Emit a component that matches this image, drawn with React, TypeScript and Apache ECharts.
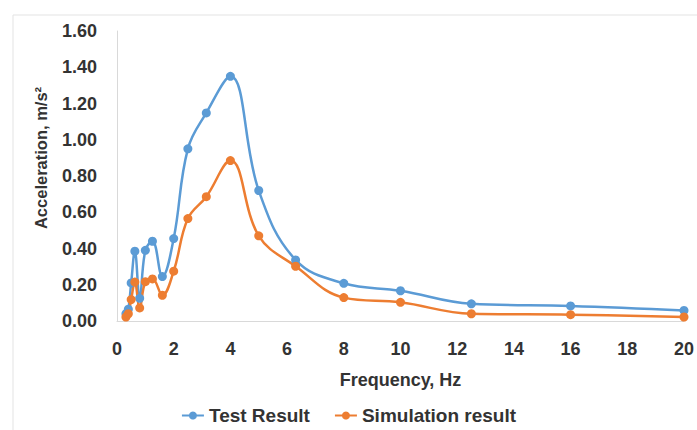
import React, { useEffect, useRef } from "react";
import * as echarts from "echarts";

const frequencies = [0.315, 0.4, 0.5, 0.63, 0.8, 1.0, 1.25, 1.6, 2.0, 2.5, 3.15, 4.0, 5.0, 6.3, 8.0, 10.0, 12.5, 16.0, 20.0];
const testResult = [0.04, 0.065, 0.21, 0.385, 0.125, 0.39, 0.44, 0.245, 0.455, 0.95, 1.148, 1.35, 0.72, 0.337, 0.208, 0.167, 0.095, 0.083, 0.058];
const simulationResult = [0.022, 0.04, 0.118, 0.215, 0.072, 0.217, 0.232, 0.142, 0.275, 0.565, 0.686, 0.885, 0.47, 0.302, 0.129, 0.103, 0.04, 0.035, 0.022];
const seriesNames = ["Test Result", "Simulation result"];
const xAxisTitle = "Frequency, Hz";
const yAxisTitle = "Acceleration, m/s²";

const FONT = "'Liberation Sans', Arial, sans-serif";
const TEXT = "#333333";

export default function App() {
  const ref = useRef<HTMLDivElement>(null);
  useEffect(() => {
    document.body.style.margin = "0";
    if (!ref.current) return;
    const chart = echarts.init(ref.current, undefined, { renderer: "svg" });
    const toPairs = (ys: number[]) => frequencies.map((f, i) => [f, ys[i]]);
    chart.setOption({
      animation: false,
      backgroundColor: "#ffffff",
      textStyle: { fontFamily: FONT },
      grid: { left: 117, right: 12, top: 31, bottom: 109 },
      legend: {
        data: seriesNames,
        left: "center",
        top: 401,
        itemWidth: 22,
        itemHeight: 10,
        itemGap: 24,
        textStyle: { fontFamily: FONT, fontSize: 19, color: TEXT, fontWeight: "bold" },
      },
      xAxis: {
        type: "value",
        min: 0,
        max: 20,
        interval: 2,
        name: xAxisTitle,
        nameLocation: "middle",
        nameGap: 50,
        nameTextStyle: { fontFamily: FONT, fontSize: 18, fontWeight: "bold", color: TEXT },
        axisLine: { show: true, lineStyle: { color: "#D9D9D9", width: 1 } },
        axisTick: { show: false },
        splitLine: { show: false },
        axisLabel: { margin: 19, fontFamily: FONT, fontSize: 18, fontWeight: "bold", color: TEXT },
      },
      yAxis: {
        type: "value",
        min: 0,
        max: 1.6,
        interval: 0.2,
        axisLine: { show: true, lineStyle: { color: "#D9D9D9", width: 1 } },
        axisTick: { show: false },
        splitLine: { show: false },
        axisLabel: {
          margin: 20,
          fontFamily: FONT,
          fontSize: 18,
          fontWeight: "bold",
          color: TEXT,
          formatter: (v: number) => v.toFixed(2),
        },
      },
      graphic: [
        {
          type: "rect",
          silent: true,
          shape: { x: 13, y: 15, width: 720, height: 440 },
          style: { fill: "none", stroke: "#E3E3E3", lineWidth: 1 },
        },
        {
          type: "text",
          x: 41,
          y: 158,
          rotation: Math.PI / 2,
          style: {
            text: yAxisTitle,
            fontFamily: FONT,
            fontSize: 16.5,
            fontWeight: "bold",
            fill: TEXT,
            align: "center",
            verticalAlign: "middle",
          },
        },
      ],
      series: [
        {
          name: seriesNames[0],
          type: "line",
          data: toPairs(testResult),
          smooth: 0.4,
          symbol: "circle",
          symbolSize: 9,
          lineStyle: { width: 2.5, color: "#5B9BD5" },
          itemStyle: { color: "#5B9BD5" },
        },
        {
          name: seriesNames[1],
          type: "line",
          data: toPairs(simulationResult),
          smooth: 0.4,
          symbol: "circle",
          symbolSize: 9,
          lineStyle: { width: 2.5, color: "#ED7D31" },
          itemStyle: { color: "#ED7D31" },
        },
      ],
    });
    return () => chart.dispose();
  }, []);
  return <div ref={ref} style={{ width: 697, height: 430 }} />;
}
